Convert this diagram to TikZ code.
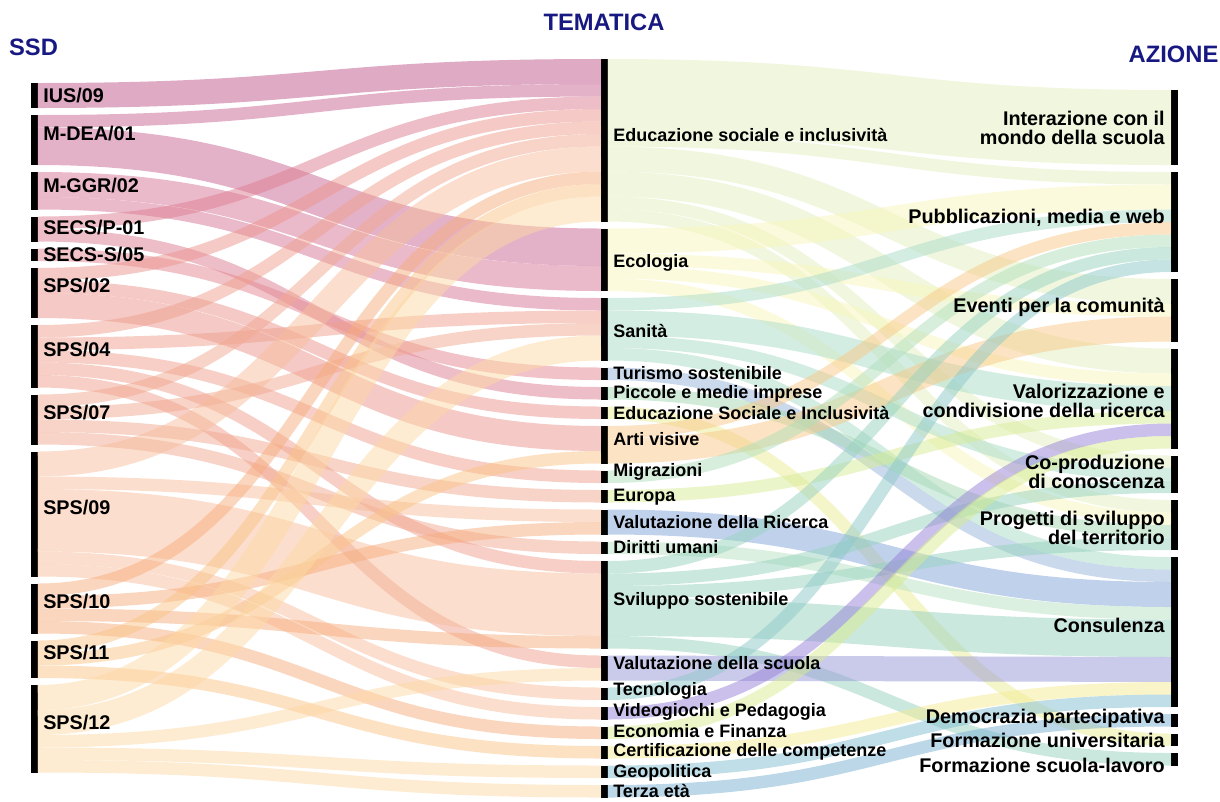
\documentclass[tikz,border=0pt]{standalone}
\usepackage{fontspec}
\setmainfont{Liberation Sans}
\usepackage{xcolor}
\usepackage{tikz}
\usetikzlibrary{calc,positioning}
\lineskiplimit=-\maxdimen

\definecolor{titleblue}{RGB}{24,24,130}
% SSD colours
\definecolor{cius}{RGB}{189,85,137}
\definecolor{cmdea}{RGB}{201,101,145}
\definecolor{cmggr}{RGB}{213,117,149}
\definecolor{csecsp}{RGB}{221,125,145}
\definecolor{csecss}{RGB}{227,135,145}
\definecolor{csps02}{RGB}{235,147,141}
\definecolor{csps04}{RGB}{239,159,141}
\definecolor{csps07}{RGB}{241,169,145}
\definecolor{csps09}{RGB}{247,189,155}
\definecolor{csps10}{RGB}{247,173,125}
\definecolor{csps11}{RGB}{251,195,135}
\definecolor{csps12}{RGB}{253,217,165}
% tematica colours
\definecolor{ceduc}{RGB}{227,239,191}
\definecolor{cecol}{RGB}{249,245,185}
\definecolor{csani}{RGB}{170,220,200}
\definecolor{cturi}{RGB}{150,180,215}
\definecolor{cpicc}{RGB}{165,215,180}
\definecolor{cedsi}{RGB}{235,235,150}
\definecolor{carti}{RGB}{249,200,135}
\definecolor{cmigr}{RGB}{175,222,185}
\definecolor{ceuro}{RGB}{215,235,150}
\definecolor{cvric}{RGB}{130,165,215}
\definecolor{cdiri}{RGB}{185,225,195}
\definecolor{csvil}{RGB}{150,210,190}
\definecolor{cvscu}{RGB}{150,150,215}
\definecolor{ctecn}{RGB}{140,200,200}
\definecolor{cvide}{RGB}{150,130,215}
\definecolor{cecon}{RGB}{215,235,145}
\definecolor{ccert}{RGB}{245,235,145}
\definecolor{cgeop}{RGB}{130,190,210}
\definecolor{cterz}{RGB}{120,175,210}

\tikzstyle{bar} = [rectangle, fill=black, inner sep=0pt, outer sep=0pt, minimum width=4.9pt, anchor=north west]
\tikzstyle{band} = [draw opacity=0.5]
\tikzstyle{ssd} = [anchor=base west, inner sep=0pt, font=\fontsize{14.85}{16}\selectfont\bfseries]
\tikzstyle{tema} = [anchor=base west, inner sep=0pt, font=\fontsize{13.5}{15}\selectfont\bfseries]
\tikzstyle{azione} = [anchor=base east, inner sep=0pt, align=right, font=\fontsize{14.85}{14}\selectfont\bfseries]
\tikzstyle{heading} = [anchor=base, inner sep=0pt, text=titleblue, font=\fontsize{17.8}{20}\selectfont\bfseries]

% one band of the sankey: source, target, units, colour
\newcommand{\flow}[4]{%
  \ifcsname so@#1\endcsname\else\expandafter\gdef\csname so@#1\endcsname{0}\fi
  \ifcsname ti@#2\endcsname\else\expandafter\gdef\csname ti@#2\endcsname{0}\fi
  \pgfmathsetmacro{\flw}{#3*12.5}%
  \pgfmathsetmacro{\flya}{\csname so@#1\endcsname+\flw/2}%
  \pgfmathsetmacro{\flyb}{\csname ti@#2\endcsname+\flw/2}%
  \pgfmathsetmacro{\fllw}{#3*9.375}%
  \coordinate (fa) at ($(#1.north east)+(0,\flya)$);
  \coordinate (fb) at ($(#2.north west)+(0,\flyb)$);
  \coordinate (fm) at ($(fa)!0.5!(fb)$);
  \draw[band, draw=#4, line width=\fllw pt] (fa) .. controls (fm |- fa) and (fm |- fb) .. (fb);
  \pgfmathsetmacro{\flnew}{\csname so@#1\endcsname+\flw}%
  \expandafter\xdef\csname so@#1\endcsname{\flnew}%
  \pgfmathsetmacro{\flnew}{\csname ti@#2\endcsname+\flw}%
  \expandafter\xdef\csname ti@#2\endcsname{\flnew}%
}

\begin{document}
\begin{tikzpicture}[x=0.75pt, y=-0.75pt]
	\useasboundingbox (0,0) rectangle (1220,801);

	% SSD bars
	\node[bar, minimum height=18.75pt] (ius) at (31,83) {};
	\node[bar, minimum height=37.5pt, below=5.25pt of ius] (mdea) {};
	\node[bar, minimum height=28.125pt, below=5.25pt of mdea] (mggr) {};
	\node[bar, minimum height=18.75pt, below=5.25pt of mggr] (secsp) {};
	\node[bar, minimum height=9.375pt, below=5.25pt of secsp] (secss) {};
	\node[bar, minimum height=37.5pt, below=5.25pt of secss] (sps02) {};
	\node[bar, minimum height=46.875pt, below=5.25pt of sps02] (sps04) {};
	\node[bar, minimum height=37.5pt, below=5.25pt of sps04] (sps07) {};
	\node[bar, minimum height=93.75pt, below=5.25pt of sps07] (sps09) {};
	\node[bar, minimum height=37.5pt, below=5.25pt of sps09] (sps10) {};
	\node[bar, minimum height=28.125pt, below=5.25pt of sps10] (sps11) {};
	\node[bar, minimum height=65.625pt, below=5.25pt of sps11] (sps12) {};

	% tematica bars
	\node[bar, minimum height=121.875pt] (educ) at (601,59) {};
	\node[bar, minimum height=46.875pt, below=5.25pt of educ] (ecol) {};
	\node[bar, minimum height=46.875pt, below=5.25pt of ecol] (sani) {};
	\node[bar, minimum height=9.375pt, below=5.25pt of sani] (turi) {};
	\node[bar, minimum height=9.375pt, below=5.25pt of turi] (picc) {};
	\node[bar, minimum height=9.375pt, below=5.25pt of picc] (edsi) {};
	\node[bar, minimum height=28.125pt, below=5.25pt of edsi] (arti) {};
	\node[bar, minimum height=9.375pt, below=5.25pt of arti] (migr) {};
	\node[bar, minimum height=9.375pt, below=5.25pt of migr] (euro) {};
	\node[bar, minimum height=18.75pt, below=5.25pt of euro] (vric) {};
	\node[bar, minimum height=9.375pt, below=5.25pt of vric] (diri) {};
	\node[bar, minimum height=65.625pt, below=5.25pt of diri] (svil) {};
	\node[bar, minimum height=18.75pt, below=5.25pt of svil] (vscu) {};
	\node[bar, minimum height=9.375pt, below=5.25pt of vscu] (tecn) {};
	\node[bar, minimum height=9.375pt, below=5.25pt of tecn] (vide) {};
	\node[bar, minimum height=9.375pt, below=5.25pt of vide] (econ) {};
	\node[bar, minimum height=9.375pt, below=5.25pt of econ] (cert) {};
	\node[bar, minimum height=9.375pt, below=5.25pt of cert] (geop) {};
	\node[bar, minimum height=9.375pt, below=5.25pt of geop] (terz) {};

	% azione bars
	\node[bar, minimum height=56.25pt] (inte) at (1171,90) {};
	\node[bar, minimum height=75pt, below=5.25pt of inte] (pubb) {};
	\node[bar, minimum height=46.875pt, below=5.25pt of pubb] (even) {};
	\node[bar, minimum height=75pt, below=5.25pt of even] (valo) {};
	\node[bar, minimum height=28.125pt, below=5.25pt of valo] (copr) {};
	\node[bar, minimum height=37.5pt, below=5.25pt of copr] (prog) {};
	\node[bar, minimum height=112.5pt, below=5.25pt of prog] (cons) {};
	\node[bar, minimum height=9.375pt, below=5.25pt of cons] (demo) {};
	\node[bar, minimum height=9.375pt, below=5.25pt of demo] (funi) {};
	\node[bar, minimum height=9.375pt, below=5.25pt of funi] (fscu) {};

	% SSD -> tematica
	\flow{ius}{educ}{2}{cius}
	\flow{mdea}{educ}{1}{cmdea}
	\flow{mdea}{ecol}{3}{cmdea}
	\flow{mggr}{ecol}{2}{cmggr}
	\flow{mggr}{sani}{1}{cmggr}
	\flow{secsp}{educ}{1}{csecsp}
	\flow{secsp}{picc}{1}{csecsp}
	\flow{secss}{turi}{1}{csecss}
	\flow{sps02}{educ}{1}{csps02}
	\flow{sps02}{edsi}{1}{csps02}
	\flow{sps02}{arti}{2}{csps02}
	\flow{sps04}{educ}{1}{csps04}
	\flow{sps04}{sani}{1}{csps04}
	\flow{sps04}{migr}{1}{csps04}
	\flow{sps04}{svil}{1}{csps04}
	\flow{sps04}{vscu}{1}{csps04}
	\flow{sps07}{educ}{1}{csps07}
	\flow{sps07}{sani}{1}{csps07}
	\flow{sps07}{euro}{1}{csps07}
	\flow{sps07}{diri}{1}{csps07}
	\flow{sps09}{educ}{2}{csps09}
	\flow{sps09}{vric}{1}{csps09}
	\flow{sps09}{svil}{5}{csps09}
	\flow{sps09}{tecn}{1}{csps09}
	\flow{sps09}{vide}{1}{csps09}
	\flow{sps10}{educ}{1}{csps10}
	\flow{sps10}{vric}{1}{csps10}
	\flow{sps10}{svil}{1}{csps10}
	\flow{sps10}{econ}{1}{csps10}
	\flow{sps11}{educ}{1}{csps11}
	\flow{sps11}{arti}{1}{csps11}
	\flow{sps11}{cert}{1}{csps11}
	\flow{sps12}{educ}{2}{csps12}
	\flow{sps12}{sani}{2}{csps12}
	\flow{sps12}{vscu}{1}{csps12}
	\flow{sps12}{geop}{1}{csps12}
	\flow{sps12}{terz}{1}{csps12}

	% tematica -> azione
	\flow{educ}{inte}{6}{ceduc}
	\flow{educ}{pubb}{1}{ceduc}
	\flow{educ}{even}{2}{ceduc}
	\flow{educ}{valo}{2}{ceduc}
	\flow{educ}{copr}{1}{ceduc}
	\flow{educ}{prog}{1}{ceduc}
	\flow{ecol}{pubb}{2}{cecol}
	\flow{ecol}{even}{1}{cecol}
	\flow{ecol}{valo}{1}{cecol}
	\flow{ecol}{prog}{1}{cecol}
	\flow{sani}{pubb}{1}{csani}
	\flow{sani}{valo}{2}{csani}
	\flow{sani}{copr}{1}{csani}
	\flow{sani}{cons}{1}{csani}
	\flow{turi}{cons}{1}{cturi}
	\flow{picc}{prog}{1}{cpicc}
	\flow{edsi}{funi}{1}{cedsi}
	\flow{arti}{pubb}{1}{carti}
	\flow{arti}{even}{2}{carti}
	\flow{migr}{pubb}{1}{cmigr}
	\flow{euro}{valo}{1}{ceuro}
	\flow{vric}{cons}{2}{cvric}
	\flow{diri}{cons}{1}{cdiri}
	\flow{svil}{pubb}{1}{csvil}
	\flow{svil}{copr}{1}{csvil}
	\flow{svil}{prog}{1}{csvil}
	\flow{svil}{cons}{3}{csvil}
	\flow{svil}{fscu}{1}{csvil}
	\flow{vscu}{cons}{2}{cvscu}
	\flow{tecn}{pubb}{1}{ctecn}
	\flow{vide}{valo}{1}{cvide}
	\flow{econ}{valo}{1}{cecon}
	\flow{cert}{cons}{1}{ccert}
	\flow{geop}{cons}{1}{cgeop}
	\flow{terz}{demo}{1}{cterz}

	% headings
	\node[heading] (tssd) at (33.5,55) {SSD};
	\node[heading] (ttem) at (604,30) {TEMATICA};
	\node[heading] (tazi) at (1173.5,62) {AZIONE};

	% SSD labels
	\node[ssd] (lius) at (43,102) {IUS/09};
	\node[ssd] (lmdea) at (43,140.5) {M-DEA/01};
	\node[ssd] (lmggr) at (43,192) {M-GGR/02};
	\node[ssd] (lsecsp) at (43,234.5) {SECS/P-01};
	\node[ssd] (lsecss) at (43,261) {SECS-S/05};
	\node[ssd] (lsps02) at (43,292.5) {SPS/02};
	\node[ssd] (lsps04) at (43,356.5) {SPS/04};
	\node[ssd] (lsps07) at (43,419) {SPS/07};
	\node[ssd] (lsps09) at (43,514) {SPS/09};
	\node[ssd] (lsps10) at (43,608) {SPS/10};
	\node[ssd] (lsps11) at (43,659) {SPS/11};
	\node[ssd] (lsps12) at (43,729) {SPS/12};

	% tematica labels
	\node[tema] (leduc) at (613,141) {Educazione sociale e inclusività};
	\node[tema] (lecol) at (613,267) {Ecologia};
	\node[tema] (lsani) at (613,337) {Sanità};
	\node[tema] (lturi) at (613,379) {Turismo sostenibile};
	\node[tema] (lpicc) at (613,398.5) {Piccole e medie imprese};
	\node[tema] (ledsi) at (613,419) {Educazione Sociale e Inclusività};
	\node[tema] (larti) at (613,445) {Arti visive};
	\node[tema] (lmigr) at (613,476.5) {Migrazioni};
	\node[tema] (leuro) at (613,501) {Europa};
	\node[tema] (lvric) at (613,528.5) {Valutazione della Ricerca};
	\node[tema] (ldiri) at (613,553.5) {Diritti umani};
	\node[tema] (lsvil) at (613,605) {Sviluppo sostenibile};
	\node[tema] (lvscu) at (613,669) {Valutazione della scuola};
	\node[tema] (ltecn) at (613,695) {Tecnologia};
	\node[tema] (lvide) at (613,716.5) {Videogiochi e Pedagogia};
	\node[tema] (lecon) at (613,737) {Economia e Finanza};
	\node[tema] (lcert) at (613,756.5) {Certificazione delle competenze};
	\node[tema] (lgeop) at (613,777) {Geopolitica};
	\node[tema] (lterz) at (613,797.5) {Terza età};

	% azione labels
	\node[azione, anchor=east] (linte) at (1165,128) {Interazione con il\\mondo della scuola};
	\node[azione] (lpubb) at (1165,223) {Pubblicazioni, media e web};
	\node[azione] (leven) at (1165,312) {Eventi per la comunità};
	\node[azione, anchor=east] (lvalo) at (1165,401) {Valorizzazione e\\condivisione della ricerca};
	\node[azione, anchor=east] (lcopr) at (1165,472) {Co-produzione\\di conoscenza};
	\node[azione, anchor=east] (lprog) at (1165,528) {Progetti di sviluppo\\del territorio};
	\node[azione] (lcons) at (1165,632) {Consulenza};
	\node[azione] (ldemo) at (1165,723) {Democrazia partecipativa};
	\node[azione] (lfuni) at (1165,747) {Formazione universitaria};
	\node[azione] (lfscu) at (1165,772) {Formazione scuola-lavoro};
\end{tikzpicture}
\end{document}
